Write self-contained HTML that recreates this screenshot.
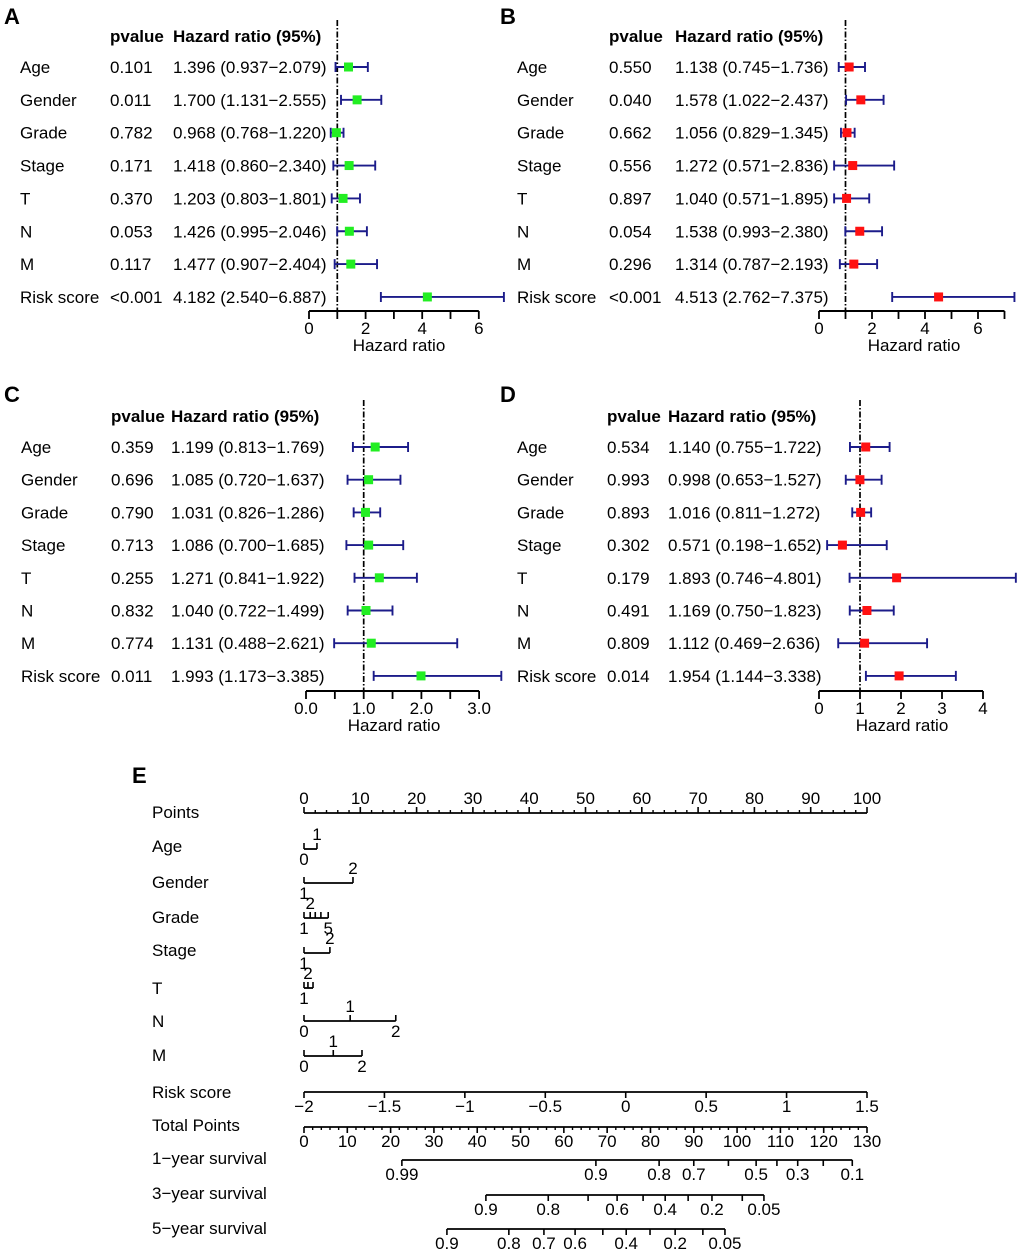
<!DOCTYPE html>
<html><head><meta charset="utf-8">
<style>
html,body{margin:0;padding:0;background:#fff;}
svg{display:block;font-family:"Liberation Sans",Arial,sans-serif;}
</style></head>
<body>
<svg id="fig" width="1020" height="1254" viewBox="0 0 1020 1254" xmlns="http://www.w3.org/2000/svg"></svg>
<script>
// ---------- Forest plot data ----------
const varsA = ["Age","Gender","Grade","Stage","T","N","M","Risk score"];
const pA = ["0.101","0.011","0.782","0.171","0.370","0.053","0.117","<0.001"];
const hrA = [1.396,1.700,0.968,1.418,1.203,1.426,1.477,4.182];
const loA = [0.937,1.131,0.768,0.860,0.803,0.995,0.907,2.540];
const hiA = [2.079,2.555,1.220,2.340,1.801,2.046,2.404,6.887];

const varsB = ["Age","Gender","Grade","Stage","T","N","M","Risk score"];
const pB = ["0.550","0.040","0.662","0.556","0.897","0.054","0.296","<0.001"];
const hrB = [1.138,1.578,1.056,1.272,1.040,1.538,1.314,4.513];
const loB = [0.745,1.022,0.829,0.571,0.571,0.993,0.787,2.762];
const hiB = [1.736,2.437,1.345,2.836,1.895,2.380,2.193,7.375];

const varsC = ["Age","Gender","Grade","Stage","T","N","M","Risk score"];
const pC = ["0.359","0.696","0.790","0.713","0.255","0.832","0.774","0.011"];
const hrC = [1.199,1.085,1.031,1.086,1.271,1.040,1.131,1.993];
const loC = [0.813,0.720,0.826,0.700,0.841,0.722,0.488,1.173];
const hiC = [1.769,1.637,1.286,1.685,1.922,1.499,2.621,3.385];

const varsD = ["Age","Gender","Grade","Stage","T","N","M","Risk score"];
const pD = ["0.534","0.993","0.893","0.302","0.179","0.491","0.809","0.014"];
const hrD = [1.140,0.998,1.016,0.571,1.893,1.169,1.112,1.954];
const loD = [0.755,0.653,0.811,0.198,0.746,0.750,0.469,1.144];
const hiD = [1.722,1.527,1.272,1.652,4.801,1.823,2.636,3.338];

const ticksA = [0,1,2,3,4,5,6];
const tickLabelsA = ["0","","2","","4","","6"];
const ticksB = [0,1,2,3,4,5,6,7];
const tickLabelsB = ["0","","2","","4","","6",""];
const ticksC = [0,0.5,1,1.5,2,2.5,3];
const tickLabelsC = ["0.0","","1.0","","2.0","","3.0"];
const ticksD = [0,1,2,3,4];
const tickLabelsD = ["0","1","2","3","4"];

// ---------- Nomogram data ----------
const pointTicks = [0,10,20,30,40,50,60,70,80,90,100];
const ageLevels = ["0","1"];           const agePts = [0,2.3];         const agePos = ["b","a"];
const genderLevels = ["1","2"];        const genderPts = [0,8.7];      const genderPos = ["b","a"];
const gradeLevels = ["1","2","","","5"]; const gradePts = [0,1.1,2.0,3.0,4.3]; const gradePos = ["b","a","a","a","b"];
const stageLevels = ["1","2"];         const stagePts = [0,4.6];       const stagePos = ["b","a"];
const tLevels = ["1","2",""];          const tPts = [0,0.7,1.6];       const tPos = ["b","a","a"];
const nLevels = ["0","1","2"];         const nPts = [0,8.2,16.3];      const nPos = ["b","a","b"];
const mLevels = ["0","1","2"];         const mPts = [0,5.2,10.3];      const mPos = ["b","a","b"];
const riskTicks = [-2,-1.5,-1,-0.5,0,0.5,1,1.5];
const riskLabels = ["\u22122","\u22121.5","\u22121","\u22120.5","0","0.5","1","1.5"];
const totalTicks = [0,10,20,30,40,50,60,70,80,90,100,110,120,130];
const surv1Pts = [22.6,67.4,82,90,98,104.4,109.2,114,119.9,126.6];
const surv1Labels = ["0.99","0.9","0.8","0.7","","0.5","","0.3","","0.1"];
const surv3Pts = [42,56.4,65.6,72.3,78.3,83.4,88.7,94.2,101.2,106.2];
const surv3Labels = ["0.9","0.8","","0.6","","0.4","","0.2","","0.05"];
const surv5Pts = [33,47.3,55.4,62.6,69,74.4,79.9,85.7,92.1,97.2];
const surv5Labels = ["0.9","0.8","0.7","0.6","","0.4","","0.2","","0.05"];

const FS = 17;
const NS = "http://www.w3.org/2000/svg";
const svg = document.getElementById("fig");
function mk(tag, attrs, parent){
  const e = document.createElementNS(NS, tag);
  for (const k in attrs) e.setAttribute(k, attrs[k]);
  (parent||svg).appendChild(e);
  return e;
}
function txt(x,y,s,opts,parent){
  const t = mk("text",Object.assign({x:x,y:y,"font-size":FS,fill:"#000"},opts||{}),parent);
  t.textContent = s;
  return t;
}
const NAVY = "#1c1c8a";

function forest(cfg, vars, ps, hr, lo, hi, ticks, tickLabels){
  const g = mk("g",{});
  
  
  const xs = v => cfg.x0 + v*cfg.k;
  const L = txt(cfg.letterX, cfg.letterY, cfg.id, {"font-size":22,"font-weight":"bold"}, g);
  
  
  const h1 = txt(cfg.pX, cfg.headY, "pvalue", {"font-weight":"bold"}, g);
  
  
  const h2 = txt(cfg.hrX, cfg.headY, "Hazard ratio (95%)", {"font-weight":"bold"}, g);
  
  
  const ref = mk("line",{x1:xs(1),x2:xs(1),y1:cfg.dashTop,y2:cfg.axisY,stroke:"#000","stroke-width":1.7,"stroke-dasharray":"6,2,1.5,2"}, g);
  
  
  for (let i=0;i<vars.length;i++){
    const y = cfg.y0 + i*cfg.dy;
    const a = txt(cfg.labelX, y+6, vars[i], {}, g);
    
    
    const b = txt(cfg.pX, y+6, ps[i], {}, g);
    
    
    const c = txt(cfg.hrX, y+6, hr[i].toFixed(3)+" ("+lo[i].toFixed(3)+"\u2212"+hi[i].toFixed(3)+")", {}, g);
    
    
    const w = mk("path",{d:"M"+xs(lo[i])+" "+(y-5)+"V"+(y+5)+"M"+xs(lo[i])+" "+y+"H"+xs(hi[i])+"M"+xs(hi[i])+" "+(y-5)+"V"+(y+5),stroke:NAVY,"stroke-width":1.9,fill:"none"}, g);
    
    
    const s = mk("rect",{x:xs(hr[i])-4.5,y:y-4.5,width:9,height:9,fill:cfg.color}, g);
    
    
  }
  const ax = mk("line",{x1:xs(ticks[0]),x2:xs(ticks[ticks.length-1]),y1:cfg.axisY,y2:cfg.axisY,stroke:"#000","stroke-width":2}, g);
  
  
  for (let i=0;i<ticks.length;i++){
    const t = mk("line",{x1:xs(ticks[i]),x2:xs(ticks[i]),y1:cfg.axisY,y2:cfg.axisY+8,stroke:"#000","stroke-width":1.8}, g);
    
    
    if (tickLabels[i]){
      const tl = txt(xs(ticks[i]), cfg.axisY+23, tickLabels[i], {"text-anchor":"middle"}, g);
      
      
    }
  }
  const xt = txt(cfg.xlabX, cfg.axisY+40, "Hazard ratio", {"text-anchor":"middle"}, g);
  
  
}

forest({id:"A",letterX:4,letterY:24,pX:110,hrX:173,headY:42,labelX:20,x0:309,k:28.3,y0:67,dy:32.85,axisY:311,dashTop:20,color:"#22ee22",xlabX:399}, varsA,pA,hrA,loA,hiA,ticksA,tickLabelsA);
forest({id:"B",letterX:500,letterY:24,pX:609,hrX:675,headY:42,labelX:517,x0:819,k:26.5,y0:67,dy:32.85,axisY:311,dashTop:20,color:"#ff1111",xlabX:914}, varsB,pB,hrB,loB,hiB,ticksB,tickLabelsB);
forest({id:"C",letterX:4,letterY:402,pX:111,hrX:171,headY:422,labelX:21,x0:306,k:57.7,y0:447,dy:32.7,axisY:691,dashTop:400,color:"#22ee22",xlabX:394}, varsC,pC,hrC,loC,hiC,ticksC,tickLabelsC);
forest({id:"D",letterX:500,letterY:402,pX:607,hrX:668,headY:422,labelX:517,x0:819,k:41,y0:447,dy:32.7,axisY:691,dashTop:400,color:"#ff1111",xlabX:902}, varsD,pD,hrD,loD,hiD,ticksD,tickLabelsD);

// ---------- Nomogram ----------
const gE = mk("g",{});


const LE = txt(132, 783, "E", {"font-size":22,"font-weight":"bold"}, gE);


const P0 = 304, PK = 5.63;
const px = v => P0 + v*PK;
const rowNames = ["Points","Age","Gender","Grade","Stage","T","N","M","Risk score","Total Points","1\u2212year survival","3\u2212year survival","5\u2212year survival"];
const rowY = [812,846,882,917,950,988,1021,1055,1092,1125,1158,1193,1228];
for (let i=0;i<rowNames.length;i++){
  const r = txt(152, rowY[i]+6, rowNames[i], {}, gE);
  
  
}
function scaleAxis(name, y, x0, x1, majors, labels, minorFn, above){
  const ln = mk("line",{x1:x0,x2:x1,y1:y,y2:y,stroke:"#000","stroke-width":1.8}, gE);
  
  
  const dir = above ? -1 : 1;
  majors.forEach((x,i)=>{
    const t = mk("line",{x1:x,x2:x,y1:y,y2:y+dir*6,stroke:"#000","stroke-width":1.6}, gE);
    
    
    if (labels[i]){
      const tl = txt(x, above ? y-9 : y+20, labels[i], {"text-anchor":"middle"}, gE);
      
      
    }
  });
  if (minorFn){
    minorFn().forEach(x=>{
      const m = mk("line",{x1:x,x2:x,y1:y,y2:y+dir*3,stroke:"#000","stroke-width":1.4}, gE);
      
      
    });
  }
}
scaleAxis("points", 813, px(0), px(100), pointTicks.map(px), pointTicks.map(String), ()=>{const a=[];for(let v=2;v<100;v+=2){if(v%10)a.push(px(v));}return a;}, true);
function varRow(name, y, pts, levels, pos){
  const xs = pts.map(px);
  const ln = mk("line",{x1:Math.min(...xs),x2:Math.max(...xs),y1:y,y2:y,stroke:"#000","stroke-width":1.8}, gE);
  
  
  xs.forEach((x,i)=>{
    const t = mk("line",{x1:x,x2:x,y1:y,y2:y-6,stroke:"#000","stroke-width":1.6}, gE);
    
    
    if (levels[i]){
      const tl = txt(x, pos[i]==="a" ? y-9 : y+16, levels[i], {"text-anchor":"middle"}, gE);
      
      
    }
  });
}
varRow("age", 849, agePts, ageLevels, agePos);
varRow("gender", 883, genderPts, genderLevels, genderPos);
varRow("grade", 918, gradePts, gradeLevels, gradePos);
varRow("stage", 953, stagePts, stageLevels, stagePos);
varRow("t", 988, tPts, tLevels, tPos);
varRow("n", 1021, nPts, nLevels, nPos);
varRow("m", 1056, mPts, mLevels, mPos);
const rx = v => P0 + (v+2)*(563/3.5);
scaleAxis("risk-score", 1092, rx(-2), rx(1.5), riskTicks.map(rx), riskLabels, null, false);
const tx = v => P0 + v*(563/130);
scaleAxis("total-points", 1127, tx(0), tx(130), totalTicks.map(tx), totalTicks.map(String), ()=>{const a=[];for(let v=2;v<130;v+=2){if(v%10)a.push(tx(v));}return a;}, false);
scaleAxis("one-year-survival", 1160, tx(surv1Pts[0]), tx(surv1Pts[surv1Pts.length-1]), surv1Pts.map(tx), surv1Labels, null, false);
scaleAxis("three-year-survival", 1195, tx(surv3Pts[0]), tx(surv3Pts[surv3Pts.length-1]), surv3Pts.map(tx), surv3Labels, null, false);
scaleAxis("five-year-survival", 1229, tx(surv5Pts[0]), tx(surv5Pts[surv5Pts.length-1]), surv5Pts.map(tx), surv5Labels, null, false);
</script>
</body></html>
